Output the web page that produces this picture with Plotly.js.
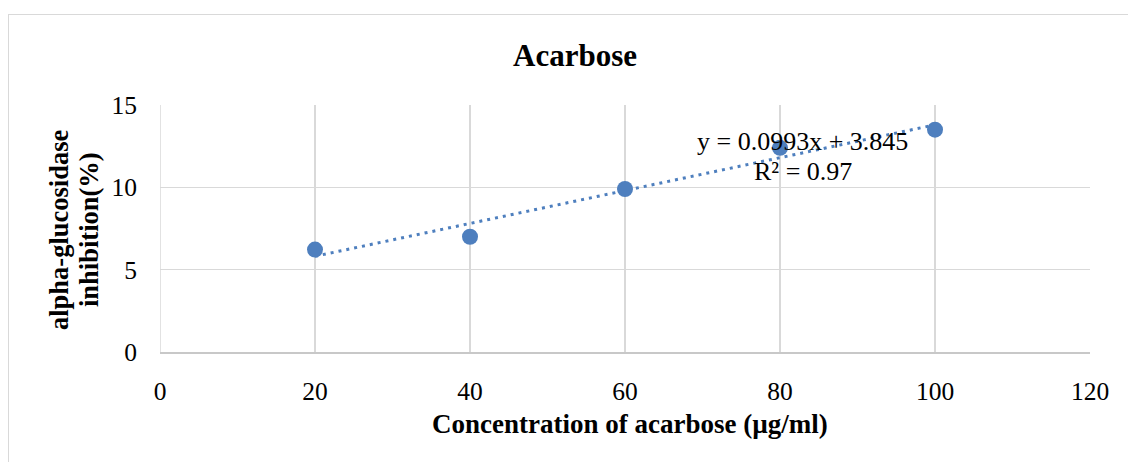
<!DOCTYPE html>
<html>
<head>
<meta charset="utf-8">
<script src="https://cdn.plot.ly/plotly-3.0.1.min.js"></script>
<style>
html,body{margin:0;padding:0;background:#fff;overflow:hidden;}
#frame{position:absolute;left:8px;top:14px;width:1200px;height:500px;border:1px solid #d9d9d9;box-sizing:border-box;}
#chart{position:absolute;left:0;top:0;width:1128px;height:462px;}
</style>
</head>
<body>
<div id="frame"></div>
<div id="chart"></div>
<script>
// Data
var concentration = [20, 40, 60, 80, 100];
var inhibition = [6.22, 7.0, 9.9, 12.4, 13.5];
var xTicks = [0, 20, 40, 60, 80, 100, 120];
var yTicks = [0, 5, 10, 15];
var chartTitle = "Acarbose";
var xTitle = "Concentration of acarbose (µg/ml)";
var yTitleLines = ["alpha-glucosidase", "inhibition(%)"];
var equationText = "y = 0.0993x + 3.845";
var r2Text = "R² = 0.97";

// Linear least-squares trendline computed from the data
var n = concentration.length;
var mx = concentration.reduce(function(a,b){return a+b;},0)/n;
var my = inhibition.reduce(function(a,b){return a+b;},0)/n;
var sxy = 0, sxx = 0;
for (var i=0;i<n;i++){ sxy += (concentration[i]-mx)*(inhibition[i]-my); sxx += (concentration[i]-mx)*(concentration[i]-mx); }
var slope = sxy/sxx, intercept = my - slope*mx;
var trendX = [concentration[0], concentration[n-1]];
var trendY = trendX.map(function(x){return slope*x+intercept;});

var FONT = "Liberation Serif, Times New Roman, serif";
var BLUE = "#4e7fbe";

var traces = [
  {x: trendX, y: trendY, mode: "lines", type: "scatter",
   line: {color: BLUE, width: 3, dash: "3px,5px"}, hoverinfo: "skip"},
  {x: concentration, y: inhibition, mode: "markers", type: "scatter",
   marker: {color: BLUE, size: 16}}
];

var W = 1128, H = 462, L = 160, R = 38, T = 105, B = 110;
var pw = W-L-R, ph = H-T-B;

var layout = {
  width: W, height: H,
  margin: {l: L, r: R, t: T, b: B, pad: 0},
  paper_bgcolor: "rgba(0,0,0,0)",
  plot_bgcolor: "rgba(0,0,0,0)",
  showlegend: false,
  font: {family: FONT, color: "#000"},
  title: {text: "<b>"+chartTitle+"</b>", font: {family: FONT, size: 31, color: "#000"},
          xref: "container", yref: "container", x: 575/W, y: 1-55/H, xanchor: "center", yanchor: "middle"},
  xaxis: {range: [0, 120], tickvals: xTicks, ticktext: xTicks.map(String),
          showgrid: true, gridcolor: "#d9d9d9", gridwidth: 1.5,
          zeroline: false, showline: true, linecolor: "#c8c8c8", linewidth: 1.5,
          ticks: "", ticklabelstandoff: 16,
          tickfont: {family: FONT, size: 25.5, color: "#000"}, fixedrange: true},
  yaxis: {range: [0, 15], tickvals: yTicks, ticktext: yTicks.map(String),
          showgrid: true, gridcolor: "#d9d9d9", gridwidth: 1.5,
          zeroline: false, showline: false,
          ticks: "", ticklabelstandoff: 22,
          tickfont: {family: FONT, size: 25.5, color: "#000"}, fixedrange: true},
  shapes: [
    {type: "line", xref: "x", yref: "paper", x0: 0, x1: 0, y0: 0, y1: 1, line: {color: "#d9d9d9", width: 1.5}, layer: "below"}
  ],
  annotations: [
    {text: "<b>"+xTitle+"</b>", xref: "paper", yref: "paper", x: (630-L)/pw, y: -(424-(H-B))/ph,
     xanchor: "center", yanchor: "middle", showarrow: false, font: {family: FONT, size: 27, color: "#000"}},
    {text: "<b>"+yTitleLines[0]+"</b>", xref: "paper", yref: "paper", x: -(L-59)/pw, y: (H-B-230)/ph,
     xanchor: "center", yanchor: "middle", textangle: -90, showarrow: false, font: {family: FONT, size: 26.5, color: "#000"}},
    {text: "<b>"+yTitleLines[1]+"</b>", xref: "paper", yref: "paper", x: -(L-89)/pw, y: (H-B-230)/ph,
     xanchor: "center", yanchor: "middle", textangle: -90, showarrow: false, font: {family: FONT, size: 26.5, color: "#000"}},
    {text: equationText, xref: "paper", yref: "paper", x: (802-L)/pw, y: (H-B-141)/ph,
     xanchor: "center", yanchor: "middle", showarrow: false, font: {family: FONT, size: 26, color: "#000"}},
    {text: r2Text, xref: "paper", yref: "paper", x: (803-L)/pw, y: (H-B-171)/ph,
     xanchor: "center", yanchor: "middle", showarrow: false, font: {family: FONT, size: 26, color: "#000"}}
  ]
};

Plotly.newPlot("chart", traces, layout, {displayModeBar: false, staticPlot: true});
</script>
</body>
</html>
